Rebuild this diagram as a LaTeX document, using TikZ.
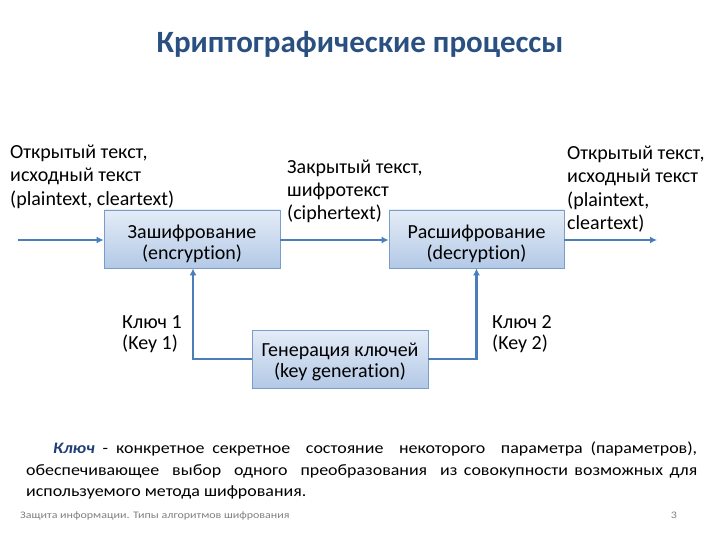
\documentclass[tikz,border=0pt]{standalone}
\usepackage{fontspec}
\setmainfont{Carlito}[Ligatures=NoCommon]
\newfontfamily\parafont[FakeStretch=1.12,Ligatures=NoCommon]{Carlito}
\newfontfamily\footfont[FakeStretch=1.2,Ligatures=NoCommon]{Carlito}
\usetikzlibrary{arrows.meta}
\definecolor{linec}{HTML}{4A7EBB}
\definecolor{boxborder}{HTML}{7A9CC8}
\definecolor{boxtop}{HTML}{E4ECF7}
\definecolor{boxbot}{HTML}{B3C9E6}
\definecolor{titlec}{HTML}{2A5082}
\definecolor{keyc}{HTML}{1F3F75}
\tikzset{
  procbox/.style={draw=boxborder, line width=0.8pt, top color=boxtop, bottom color=boxbot, inner sep=0pt},
  boxtext/.style={align=center, font=\fontsize{20}{21}\selectfont, inner sep=0pt, anchor=base},
  flow/.style={draw=linec, line width=2.4pt, -{Latex[length=7pt,width=7pt]}},
  lbl/.style={align=left, anchor=base west, inner sep=0pt, font=\fontsize{20}{23.5}\selectfont},
  keylbl/.style={align=left, anchor=base west, inner sep=0pt, font=\fontsize{20}{21.5}\selectfont},
  para/.style={anchor=base west, inner sep=0pt, font=\fontsize{16}{20}\parafont},
}
\begin{document}
\begin{tikzpicture}[x=1pt,y=-1pt]
\useasboundingbox (0,0) rectangle (720,540);
% title
\node[font=\fontsize{31}{36}\selectfont\bfseries, text=titlec] (title) at (360,44) {Криптографические процессы};
% boxes
\node[procbox, minimum width=176pt, minimum height=58pt] (enc) at (192,239) {};
\node[procbox, minimum width=175pt, minimum height=58pt] (dec) at (476.5,239) {};
\node[procbox, minimum width=176pt, minimum height=58pt] (gen) at (340,359) {};
\node[boxtext] (enct) at (192,259) {Зашифрование\\(encryption)};
\node[boxtext] (dect) at (476.5,259) {Расшифрование\\(decryption)};
\node[boxtext] (gent) at (340,377.5) {Генерация ключей\\(key generation)};
% coordinates
\coordinate (inL) at (18,240);
\coordinate (outR) at (657,240);
\coordinate (k1) at (193,359);
\coordinate (k2) at (476.5,359);
% flows
\draw[flow] (inL) -- (inL -| enc.west);
\draw[flow] (enc.east |- inL) -- (inL -| dec.west);
\draw[flow] (dec.east |- inL) -- (outR);
\draw[flow] (gen.west) -- (k1) -- (k1 |- enc.south);
\draw[flow] (gen.east) -- (k2) -- (k2 |- dec.south);
% labels (anchored at the baseline of the last line)
\node[lbl] (t1) at (10,205.5) {Открытый текст,\\исходный текст\\(plaintext, cleartext)};
\node[lbl] (t2) at (287,220) {Закрытый текст,\\шифротекст\\(ciphertext)};
\node[lbl] (t3) at (567,229.5) {Открытый текст,\\исходный текст\\(plaintext,\\cleartext)};
\node[keylbl] (key1) at (122,349.5) {Ключ 1\\(Key 1)};
\node[keylbl] (key2) at (492,349.5) {Ключ 2\\(Key 2)};
% paragraph
\node[para] (p1) at (53,453) {\hbox to 644pt{\textcolor{keyc}{\textbf{\textit{Ключ}}} - конкретное секретное \ состояние \ некоторого \ параметра (параметров),}};
\node[para] (p2) at (26,475) {\hbox to 671pt{обеспечивающее \ выбор \ одного \ преобразования \ из совокупности возможных для}};
\node[para] (p3) at (26,496) {используемого метода шифрования.};
% footer
\node[anchor=base west, inner sep=0pt, font=\fontsize{10}{12}\footfont, text=gray] (foot) at (20,518) {Защита информации. Типы алгоритмов шифрования};
\node[anchor=base, inner sep=0pt, font=\fontsize{10}{12}\footfont, text=gray] (pg) at (674,518) {3};
\end{tikzpicture}
\end{document}
